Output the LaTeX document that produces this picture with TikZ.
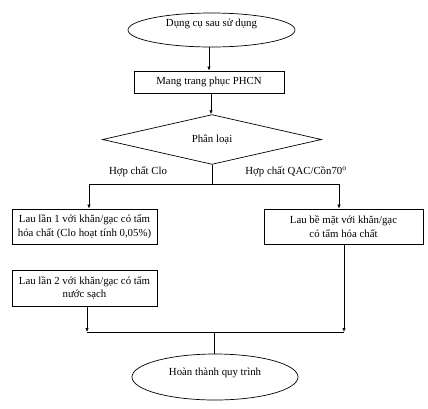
\documentclass[tikz,border=0pt]{standalone}
\usepackage{fontspec}
\setmainfont{Liberation Serif}
\usetikzlibrary{shapes.geometric,arrows.meta}
\begin{document}
\begin{tikzpicture}[x=1pt,y=-1pt,
  every node/.style={font=\fontsize{10.8}{13.5}\selectfont, inner sep=0pt},
  oval/.style={draw, ellipse, line width=0.7pt},
  stepbox/.style={draw, rectangle, line width=0.8pt, align=center},
  choice/.style={draw, diamond, line width=0.7pt},
  conn/.style={line width=0.7pt},
  arr/.style={conn, -{Latex[length=4pt,width=3.4pt]}}]
\useasboundingbox (0,0) rectangle (428,408);
% nodes
\node[oval, minimum width=167pt, minimum height=34pt, text height=8pt, text depth=16pt] (start) at (211.5,30) {Dụng cụ sau sử dụng};
\node[stepbox, minimum width=150pt, minimum height=22pt] (wear) at (209,82) {Mang trang phục PHCN};
\node[choice, minimum width=219pt, minimum height=43pt] (classify) at (212,139.5) {Phân loại};
\node (lclo) at (138,172) {Hợp chất Clo};
\node (lqac) at (296,172) {Hợp chất QAC/Cồn70\textsuperscript{o}};
\node[stepbox, minimum width=145pt, minimum height=35pt] (wipe1) at (84.5,226.5) {Lau lần 1 với khăn/gạc có tẩm\\hóa chất (Clo hoạt tính 0,05\%)};
\node[stepbox, minimum width=159pt, minimum height=35pt] (wipes) at (343.5,226.5) {Lau bề mặt với khăn/gạc\\có tẩm hóa chất};
\node[stepbox, minimum width=145pt, minimum height=36pt] (wipe2) at (84.5,288) {Lau lần 2 với khăn/gạc có tẩm\\nước sạch};
\node[oval, minimum width=166pt, minimum height=46pt, text height=8pt, text depth=12pt] (finish) at (215,377) {Hoàn thành quy trình};
% junction coordinates
\coordinate (split) at (212,184);
\coordinate (splitL) at (89,184);
\coordinate (splitR) at (339,184);
\coordinate (joinL) at (87,332);
\coordinate (joinR) at (344,332);
\coordinate (joinM) at (214,332);
% connectors
\draw[arr] (start.south -| 209,0) -- (wear.north -| 209,0);
\draw[arr] (wear.south -| 211,0) -- (classify.north -| 211,0);
\draw[conn] (classify.south) -- (split);
\draw[conn] (splitL) -- (splitR);
\draw[arr] (splitL) -- (splitL |- wipe1.north);
\draw[arr] (splitR) -- (splitR |- wipes.north);
\draw[arr] (joinL |- wipe2.south) -- (joinL);
\draw[arr] (joinR |- wipes.south) -- (joinR);
\draw[conn] (joinL) -- (joinR);
\draw[conn] (joinM) -- (joinM |- finish.north);
\end{tikzpicture}
\end{document}
